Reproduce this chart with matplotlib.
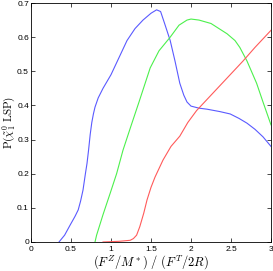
import matplotlib
matplotlib.use('Agg')
import matplotlib.pyplot as plt

# values
blue_x = [0.35, 0.42, 0.49, 0.55, 0.59, 0.62, 0.65, 0.68, 0.70, 0.72, 0.74, 0.76, 0.78, 0.8,
          0.84, 0.9, 1.0, 1.1, 1.2, 1.3, 1.4, 1.5, 1.57, 1.62, 1.67, 1.74, 1.8, 1.86, 1.91, 1.95,
          2.0, 2.1, 2.2, 2.36, 2.49, 2.6, 2.7, 2.8, 2.9, 3.0]
blue_y = [0.0, 0.02, 0.05, 0.075, 0.094, 0.12, 0.152, 0.2, 0.23, 0.27, 0.315, 0.35, 0.375, 0.395,
          0.422, 0.45, 0.49, 0.54, 0.59, 0.625, 0.65, 0.67, 0.68, 0.675, 0.64, 0.59, 0.53, 0.465, 0.43, 0.41,
          0.398, 0.392, 0.389, 0.382, 0.375, 0.362, 0.348, 0.33, 0.308, 0.28]

green_x = [0.8, 0.82, 0.9, 0.99, 1.07, 1.15, 1.25, 1.35, 1.49, 1.6, 1.74, 1.85, 1.95, 2.0,
           2.1, 2.25, 2.45, 2.55, 2.61, 2.7, 2.82, 2.9, 3.0]
green_y = [0.0, 0.02, 0.08, 0.143, 0.2, 0.269, 0.34, 0.41, 0.51, 0.56, 0.6, 0.635, 0.65, 0.653,
           0.65, 0.64, 0.61, 0.59, 0.57, 0.53, 0.465, 0.41, 0.343]

red_x = [0.9, 1.1, 1.24, 1.28, 1.32, 1.36, 1.41, 1.45, 1.5, 1.55, 1.65, 1.75, 1.86, 1.96,
         2.07, 2.25, 2.49, 2.65, 2.8, 3.0]
red_y = [0.0, 0.002, 0.005, 0.01, 0.02, 0.045, 0.085, 0.123, 0.16, 0.19, 0.24, 0.28, 0.31, 0.35,
         0.385, 0.43, 0.49, 0.53, 0.57, 0.62]

x_ticks = [0, 0.5, 1, 1.5, 2, 2.5, 3]
x_labels = ['0', '0.5', '1', '1.5', '2', '2.5', '3']
y_ticks = [0, 0.1, 0.2, 0.3, 0.4, 0.5, 0.6, 0.7]
y_labels = ['0', '0.1', '0.2', '0.3', '0.4', '0.5', '0.6', '0.7']

plt.rcParams['font.family'] = ['Liberation Sans', 'DejaVu Sans']
plt.rcParams['mathtext.fontset'] = 'cm'

fig = plt.figure(figsize=(2.73, 2.71), dpi=100)
ax = fig.add_axes([31 / 273, 29 / 271, 240 / 273, 239 / 271])

ax.plot(blue_x, blue_y, color='#5a5aff', linewidth=0.8)
ax.plot(green_x, green_y, color='#4cf04c', linewidth=0.8)
ax.plot(red_x, red_y, color='#ff5a5a', linewidth=0.8)

ax.set_xlim(0, 3)
ax.set_ylim(0, 0.7)
ax.set_xticks(x_ticks)
ax.set_xticklabels(x_labels)
ax.set_yticks(y_ticks)
ax.set_yticklabels(y_labels)
ax.tick_params(direction='in', length=3, width=0.5, labelsize=6, top=True, right=True)
ax.tick_params(axis='x', pad=3)
ax.tick_params(axis='y', pad=1.5)
for s in ax.spines.values():
    s.set_linewidth(0.6)

ax.set_xlabel(r'$(F^Z/M^*)\ /\ (F^T/2R)$', fontsize=9)
ax.set_ylabel(r'$\mathrm{P}(\tilde{\chi}_1^0\ \mathrm{LSP})$', fontsize=8)
ax.xaxis.set_label_coords(0.5, -0.045)
ax.yaxis.set_label_coords(-0.058, 0.5)

fig.savefig('out.png', dpi=100)
